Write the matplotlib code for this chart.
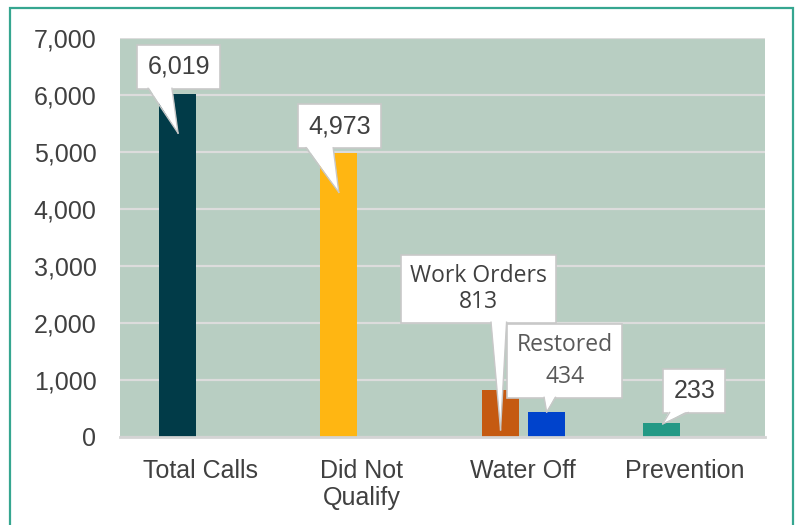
import matplotlib
matplotlib.use("Agg")
import matplotlib.pyplot as plt
from matplotlib.patches import Rectangle, Polygon
from matplotlib.ticker import FuncFormatter

plt.rcParams['font.family'] = ['Liberation Sans', 'DejaVu Sans']

# data
categories = ["Total Calls", "Did Not\nQualify", "Water Off", "Prevention"]
series1 = [6019, 4973, 813, 233]          # left bar of each group
series2 = [0, 0, 434, 0]                  # right bar (Restored)
colors1 = ["#013B48", "#FFB612", "#C55A11", "#239985"]
color2 = "#0043CC"
yticks = [0, 1000, 2000, 3000, 4000, 5000, 6000, 7000]
labels = ["6,019", "4,973", "Work Orders\n813", "Restored\n434", "233"]

fig = plt.figure(figsize=(7.98, 5.25), dpi=100)
ax = fig.add_axes([120 / 798, 1 - 436.7 / 525, 645 / 798, 398.7 / 525])
ax.set_facecolor("#B8CEC2")

x = range(len(categories))
w = 0.23
off = 0.143
ax.bar([i - off for i in x], series1, width=w, color=colors1, zorder=2)
ax.bar([i + off for i in x], series2, width=w, color=color2, zorder=2)

ax.set_xlim(-0.5, 3.5)
ax.set_ylim(0, 7000)
ax.set_yticks(yticks)
ax.yaxis.set_major_formatter(FuncFormatter(lambda v, p: f"{int(v):,}"))
ax.grid(axis="y", color="#DCDCDC", lw=1.6, zorder=1)
ax.set_xticks(list(x))
ax.set_xticklabels(categories, fontsize=18, color="#404040", linespacing=1.15)
ax.tick_params(axis="x", length=0, pad=16)
ax.tick_params(axis="y", length=0, pad=17, labelsize=18, labelcolor="#404040")
for s in ["top", "right", "left"]:
    ax.spines[s].set_visible(False)
ax.spines["bottom"].set_color("#D4D4D4")
ax.spines["bottom"].set_linewidth(2)
ax.spines["bottom"].set_zorder(3)

# callout layout: box centre, pointer tip, pointer base (fraction of box width)
box_pos = [(-0.137, 6495), (0.863, 5451), (1.724, 2600), (2.258, 1328), (3.062, 802)]
tips = [(-0.14, 5330), (0.857, 4290), (1.86, 120), (2.146, 434), (2.866, 225)]
bases = [(0.13, 0.42), (0.09, 0.42), (0.58, 0.68), (0.32, 0.42), (0.10, 0.40)]
fonts = ["Liberation Sans", "Liberation Sans", "Open Sans", "Open Sans", "Liberation Sans"]
fcols = ["#404040", "#404040", "#404040", "#595959", "#404040"]
lsp = [1.2, 1.2, 1.1, 1.4, 1.2]

edge = "#C8C8C8"
texts = []
for txt, pos, fam, col, ls in zip(labels, box_pos, fonts, fcols, lsp):
    t = ax.text(pos[0], pos[1], txt, ha="center", va="center",
                fontsize=18 if fam != "Open Sans" else 16.5, family=fam,
                color=col, linespacing=ls, zorder=5,
                bbox=dict(boxstyle="square,pad=0.4", fc="white", ec=edge, lw=1.2))
    texts.append(t)

fig.canvas.draw()
r = fig.canvas.get_renderer()
inv = ax.transData.inverted()
for t, tip, (f0, f1) in zip(texts, tips, bases):
    bb = t.get_bbox_patch().get_window_extent(r)
    x0 = bb.x0 + f0 * bb.width
    x1 = bb.x0 + f1 * bb.width
    tx, ty = ax.transData.transform(tip)
    poly = inv.transform([(x0, bb.y0 + 2.5), (x1, bb.y0 + 2.5), (tx, ty)])
    ax.add_patch(Polygon(poly, closed=True, fc="white", ec="none", zorder=6))
    for xb in (x0, x1):
        seg = inv.transform([(xb, bb.y0 + 0.5), (tx, ty)])
        ax.plot(seg[:, 0], seg[:, 1], color=edge, lw=1.0, zorder=6)

# figure border
fig.patches.append(Rectangle((10 / 798, -0.05), 783 / 798, 1.05 - 8 / 525,
                             transform=fig.transFigure, fill=False,
                             ec="#36A690", lw=1.6))

fig.savefig("out.png", dpi=100)
